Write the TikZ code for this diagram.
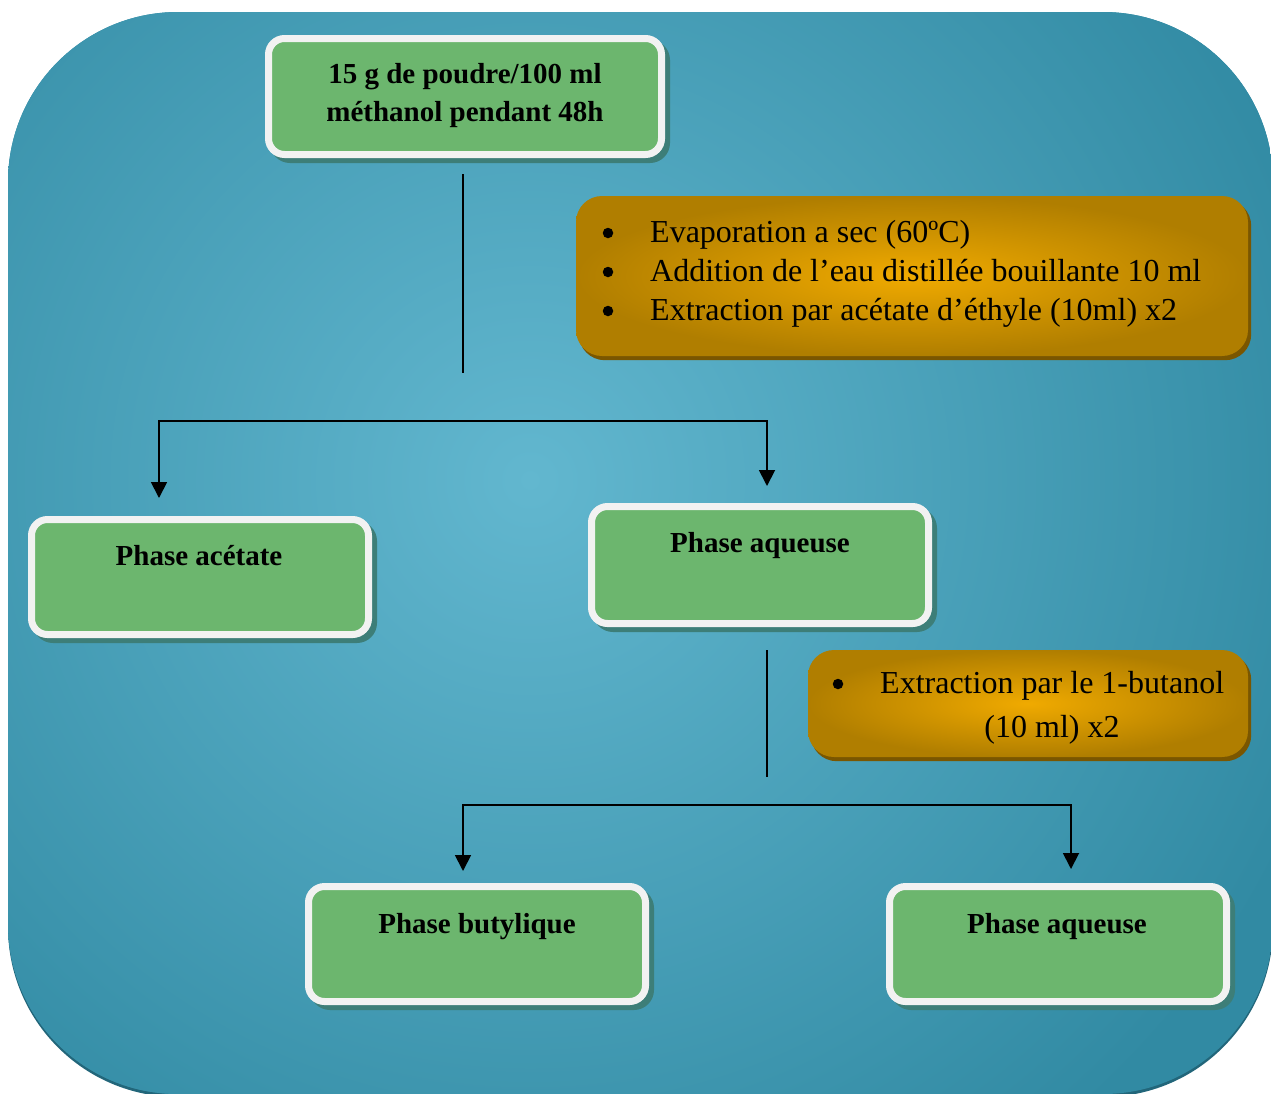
\documentclass[tikz,border=0pt]{standalone}
\usepackage{fontspec}
\setmainfont{Liberation Serif}
\usetikzlibrary{arrows.meta,calc}
\definecolor{bgdark}{HTML}{318AA3}
\definecolor{bglight}{HTML}{62B7CF}
\definecolor{bgshadow}{HTML}{22667A}
\definecolor{boxgreen}{HTML}{6CB66E}
\definecolor{boxwhite}{HTML}{F2F2F2}
\definecolor{greenshadow}{HTML}{3D7E78}
\definecolor{orlight}{HTML}{F0AA00}
\definecolor{ordark}{HTML}{B07E00}
\definecolor{orshadow}{HTML}{7A5600}
\pgfdeclarelayer{back}
\pgfdeclarelayer{shad}
\pgfsetlayers{back,shad,main}
\begin{document}
\begin{tikzpicture}[x=1pt,y=-1pt,
  greenbox/.style={draw=boxwhite, line width=7pt, fill=boxgreen, rounded corners=16pt, inner sep=0pt},
  orangebox/.style={inner color=orlight, outer color=ordark, rounded corners=26pt, inner sep=0pt},
  gtext/.style={font=\fontsize{29}{38}\selectfont\bfseries, anchor=base, inner sep=0pt},
  otext/.style={font=\fontsize{32}{40}\selectfont, anchor=base west, inner sep=0pt},
  bulletdot/.style={circle, fill=black, inner sep=0pt, minimum size=10.5pt},
  conn/.style={line width=1.8pt, black},
  biarrow/.style={{Triangle[length=16pt,width=16pt]}-{Triangle[length=16pt,width=16pt]}}
]
\useasboundingbox (0,0) rectangle (1271,1093);
% background
\begin{pgfonlayer}{back}
\fill[bgshadow, rounded corners=170pt] (8,15) rectangle (1273,1097);
\begin{scope}
\clip[rounded corners=170pt] (8,12) rectangle (1273,1094);
\fill[bgdark] (0,0) rectangle (1280,1100);
\shade[inner color=bglight, outer color=bgdark] (530,480) circle (840);
\end{scope}
\end{pgfonlayer}

% green boxes
\node[greenbox, minimum width=393pt, minimum height=116pt] (n1) at (465,96.5) {};
\node[greenbox, minimum width=337pt, minimum height=115pt] (n2) at (200,577) {};
\node[greenbox, minimum width=337pt, minimum height=117pt] (n3) at (760,565) {};
\node[greenbox, minimum width=337pt, minimum height=115pt] (n4) at (477,944) {};
\node[greenbox, minimum width=337pt, minimum height=115pt] (n5) at (1058,944) {};

% orange boxes
\node[orangebox, shade, minimum width=672pt, minimum height=160pt] (o1) at (912,276) {};
\node[orangebox, shade, minimum width=440pt, minimum height=107pt] (o2) at (1028,703.5) {};

% shadows
\begin{pgfonlayer}{shad}
\foreach \b in {n1,n2,n3,n4,n5}{
  \fill[greenshadow, rounded corners=20pt] ($(\b.north west)+(5,5)$) rectangle ($(\b.south east)+(5,5)$);
}
\foreach \b in {o1,o2}{
  \fill[orshadow, rounded corners=26pt] ($(\b.north west)+(3,4)$) rectangle ($(\b.south east)+(3,4)$);
}
\end{pgfonlayer}

% green texts
\node[gtext] (t1a) at (465,83) {15 g de poudre/100 ml};
\node[gtext] (t1b) at (465,121.5) {méthanol pendant 48h};
\node[gtext] (t2) at (199,565) {Phase acétate};
\node[gtext] (t3) at (760,552) {Phase aqueuse};
\node[gtext] (t4) at (477,933) {Phase butylique};
\node[gtext] (t5) at (1057,933) {Phase aqueuse};

% orange texts
\node[bulletdot] (b1) at (608,233) {};
\node[bulletdot] (b2) at (608,272) {};
\node[bulletdot] (b3) at (608,311) {};
\node[otext] (l1) at (650,242) {Evaporation a sec (60ºC)};
\node[otext] (l2) at (650,281) {Addition de l’eau distillée bouillante 10 ml};
\node[otext] (l3) at (650,320) {Extraction par acétate d’éthyle (10ml) x2};
\node[bulletdot] (b4) at (838,684) {};
\node[otext] (l4) at (880,693) {Extraction par le 1-butanol};
\node[otext, anchor=base] (l5) at (1052,737) {(10 ml) x2};

% connectors
\coordinate (v1a) at (463,174);
\coordinate (v1b) at (463,373);
\coordinate (h1l) at (159,421);
\coordinate (h1r) at (767,421);
\coordinate (a2) at (159,498);
\coordinate (a3) at (767,486);
\draw[conn] (v1a) -- (v1b);
\draw[conn, biarrow] (a2) -- (h1l) -- (h1r) -- (a3);

\coordinate (v2a) at (767,650);
\coordinate (v2b) at (767,777);
\coordinate (h2l) at (463,805);
\coordinate (h2r) at (1071,805);
\coordinate (a4) at (463,871);
\coordinate (a5) at (1071,869);
\draw[conn] (v2a) -- (v2b);
\draw[conn, biarrow] (a4) -- (h2l) -- (h2r) -- (a5);
\end{tikzpicture}
\end{document}
